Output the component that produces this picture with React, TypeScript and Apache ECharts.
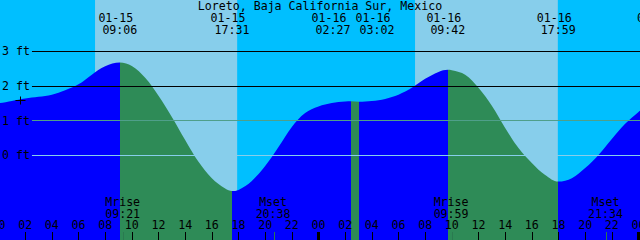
import React, { useEffect, useRef } from "react";
import * as echarts from "echarts";

const TITLE = "Loreto, Baja California Sur, Mexico";

// hours since 01-15 00:00 -> tide height (ft)
const tideHours = [0, 1, 2, 3, 4, 5, 6, 7, 8, 9.1, 10, 11, 12, 13, 14, 15, 16, 17, 17.517, 18, 19, 20, 21, 22, 23, 24, 25, 26, 26.45, 27.033, 28, 29, 30, 31, 32, 33, 33.7, 34, 35, 36, 37, 38, 39, 40, 41, 41.983, 43, 44, 45, 46, 47, 48, 48.2];
const tideFeet = [1.5, 1.57, 1.64, 1.69, 1.75, 1.88, 2.05, 2.33, 2.57, 2.68, 2.58, 2.24, 1.72, 1.11, 0.44, -0.19, -0.66, -0.96, -1.03, -1.0, -0.74, -0.31, 0.24, 0.82, 1.22, 1.41, 1.51, 1.555, 1.56, 1.55, 1.57, 1.63, 1.75, 1.95, 2.21, 2.41, 2.47, 2.46, 2.33, 1.95, 1.43, 0.79, 0.21, -0.22, -0.57, -0.76, -0.66, -0.37, 0.01, 0.47, 0.91, 1.25, 1.31];

// tide extremes
const extremeHours = [9.1, 17.517, 26.45, 27.033, 33.7, 41.983, 49.5];
const extremeKinds = ["high", "low", "high", "low", "high", "low", "high"];
const extremeDates = ["01-15", "01-15", "01-16", "01-16", "01-16", "01-16", "01-17"];
const extremeTimes = ["09:06", "17:31", "02:27", "03:02", "09:42", "17:59", ""];

// moon events
const moonNames = ["Mrise", "Mset", "Mrise", "Mset"];
const moonTimes = ["09:21", "20:38", "09:59", "21:34"];
const moonHours = [9.35, 20.633, 33.983, 45.567];

// daylight
const sunriseHours = [7.24, 31.24];
const sunsetHours = [17.9, 41.95];

// axis
const footLevels = [3, 2, 1, 0];
const hourTicks = [0, 2, 4, 6, 8, 10, 12, 14, 16, 18, 20, 22, 24, 26, 28, 30, 32, 34, 36, 38, 40, 42, 44, 46, 48];
const midnightTicks = [0, 24, 48];

const X_MAX = 48.1125;
const Y_MIN = -2.448;
const Y_MAX = 4.488;
const LINE_START_HOUR = 2.51;
const PLUS_MARK = [1.61, 1.6];

const NIGHT = "#00BFFF";
const DAY = "#87CEEB";
const RISE = "#0000FF";
const FALL = "#2E8B57";
const FONT = '"DejaVu Sans Mono", monospace';
const FS = 11.6;
const LH = 10;

const pad = (v: number) => String(Math.round(v) % 24).padStart(2, "0");

export default function App() {
  const ref = useRef<HTMLDivElement>(null);
  useEffect(() => {
    const chart = echarts.init(ref.current!, null, { renderer: "svg", width: 640, height: 240 });

    const pieces: any[] = [];
    extremeHours.forEach((h, i) => {
      const color = extremeKinds[i] === "high" ? RISE : FALL;
      if (i === 0) pieces.push({ lt: h, color });
      else pieces.push({ gte: extremeHours[i - 1], lt: h, color });
    });
    pieces.push({
      gte: extremeHours[extremeHours.length - 1],
      color: extremeKinds[extremeKinds.length - 1] === "high" ? FALL : RISE,
    });

    const lineColor = (v: number) => (v >= 2 ? "#000" : v === 1 ? "#4f9f8a" : DAY);
    const makeLine = (v: number) => [
      { coord: [LINE_START_HOUR, v], name: `${v} ft`, lineStyle: { color: lineColor(v), width: 1, type: "solid" } },
      { coord: [X_MAX, v] },
    ];
    const lineLabel = {
      show: true,
      position: "start",
      distance: 2,
      formatter: "{b}",
      color: "#000",
      fontFamily: FONT,
      fontSize: FS,
      lineHeight: LH,
    };

    const baseX = {
      type: "value",
      position: "bottom",
      min: 0,
      max: X_MAX,
      z: 10,
      splitLine: { show: false },
      axisLine: { show: false, onZero: false },
    };

    chart.setOption({
      animation: false,
      backgroundColor: NIGHT,
      title: {
        text: TITLE,
        left: "center",
        top: 0,
        padding: 0,
        textStyle: { fontFamily: FONT, fontSize: FS, fontWeight: "normal", color: "#000" },
      },
      grid: { left: -1.5, right: 0, top: 0, bottom: 0, containLabel: false, outerBoundsMode: "none" },
      xAxis: [
        {
          ...baseX,
          axisTick: { show: true, inside: true, length: 8, lineStyle: { color: "#000", width: 1 }, customValues: hourTicks },
          axisLabel: {
            show: true,
            inside: true,
            margin: 10,
            customValues: hourTicks,
            formatter: (v: number) => pad(v),
            color: "#000",
            fontFamily: FONT,
            fontSize: FS,
            lineHeight: LH,
          },
        },
        {
          ...baseX,
          axisLabel: { show: false },
          axisTick: { show: true, inside: true, length: 8, lineStyle: { color: "#000", width: 3 }, customValues: midnightTicks },
        },
      ],
      yAxis: {
        type: "value",
        min: Y_MIN,
        max: Y_MAX,
        show: false,
        splitLine: { show: false },
      },
      visualMap: {
        show: false,
        type: "piecewise",
        dimension: 0,
        seriesIndex: 1,
        pieces,
      },
      series: [
        {
          type: "line",
          z: 1,
          data: [],
          silent: true,
          markArea: {
            silent: true,
            itemStyle: { color: DAY },
            data: sunriseHours.map((s, i) => [{ xAxis: s }, { xAxis: sunsetHours[i] }]),
          },
          markLine: {
            silent: true,
            symbol: ["none", "none"],
            label: lineLabel,
            data: footLevels.filter((v) => v >= 2).map(makeLine),
          },
        },
        {
          type: "line",
          z: 2,
          data: tideHours.map((h, i) => [h, tideFeet[i]]),
          smooth: 0.35,
          showSymbol: false,
          symbol: "none",
          silent: true,
          lineStyle: { width: 0 },
          areaStyle: { opacity: 1, origin: "start" },
        },
        {
          type: "line",
          z: 3,
          data: [],
          silent: true,
          markLine: {
            silent: true,
            symbol: ["none", "none"],
            label: lineLabel,
            data: footLevels.filter((v) => v < 2).map(makeLine),
          },
        },
      ],
    });

    // labels positioned through the axis scale
    const toX = (h: number) => chart.convertToPixel({ xAxisIndex: 0 }, h) as number;
    const cxs = extremeHours.map(toX);
    const MIN_GAP = 44;
    for (let i = 1; i < cxs.length; i++) {
      if (cxs[i] - cxs[i - 1] < MIN_GAP) {
        const mid = (cxs[i] + cxs[i - 1]) / 2;
        cxs[i - 1] = mid - MIN_GAP / 2;
        cxs[i] = mid + MIN_GAP / 2;
      }
    }
    const txt = (text: string, x: number, y: number) => ({
      type: "text",
      silent: true,
      z: 100,
      style: { text, x, y, align: "center", verticalAlign: "middle", fill: "#000", fontFamily: FONT, fontSize: FS, lineHeight: LH },
    });
    const graphics: any[] = [];
    cxs.forEach((cx, i) => {
      graphics.push(txt(extremeDates[i], cx - 4, 18));
      if (extremeTimes[i]) graphics.push(txt(extremeTimes[i], cx, 30));
    });
    moonHours.forEach((h, i) => {
      const x = toX(h);
      graphics.push(txt(moonNames[i], x - 0.5, 202));
      graphics.push(txt(moonTimes[i], x - 0.5, 214));
      graphics.push({
        type: "line",
        silent: true,
        z: 99,
        shape: { x1: Math.round(x) + 0.5, y1: 232, x2: Math.round(x) + 0.5, y2: 240 },
        style: { stroke: "#2a7a50", lineWidth: 1 },
      });
    });
    const p = chart.convertToPixel({ gridIndex: 0 }, PLUS_MARK) as number[];
    const px = Math.round(p[0]) + 0.5;
    const py = Math.round(p[1]) + 0.5;
    graphics.push({
      type: "line", silent: true, z: 100,
      shape: { x1: px - 5, y1: py, x2: px + 5, y2: py },
      style: { stroke: "#000", lineWidth: 1 },
    });
    graphics.push({
      type: "line", silent: true, z: 100,
      shape: { x1: px, y1: py - 4, x2: px, y2: py + 4 },
      style: { stroke: "#000", lineWidth: 1 },
    });
    chart.setOption({ graphic: graphics });

    return () => chart.dispose();
  }, []);
  return <div ref={ref} style={{ position: "fixed", left: 0, top: 0, width: 640, height: 240 }} />;
}
